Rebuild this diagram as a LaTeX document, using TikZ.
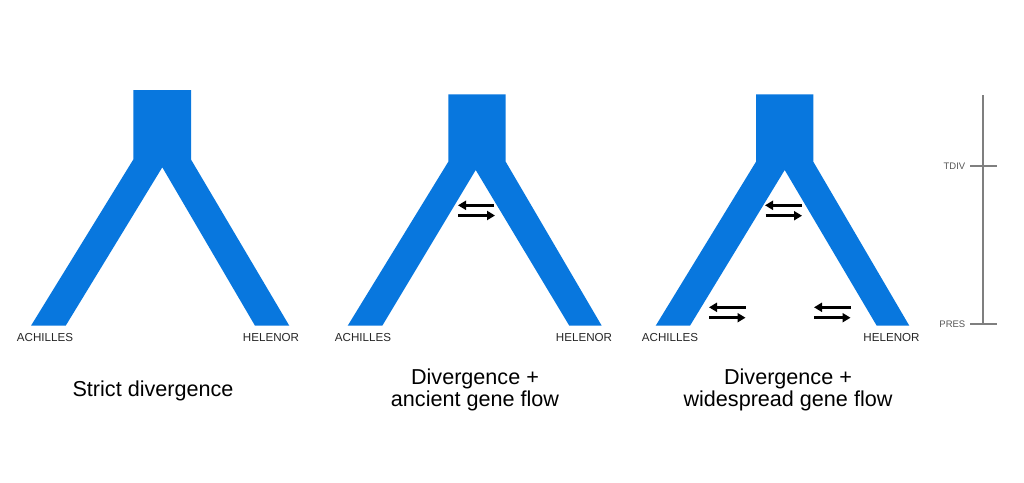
\documentclass[tikz,border=0pt]{standalone}
\usepackage{fontspec}
\setmainfont{Liberation Sans}
\usetikzlibrary{arrows.meta}
\definecolor{treeblue}{HTML}{0877DE}
\definecolor{bargray}{HTML}{7F7F7F}
\definecolor{labgray}{HTML}{555555}
\tikzset{
  branch/.style={fill=treeblue, draw=none},
  leaflabel/.style={font=\fontsize{11.6}{12}\selectfont, text=black!85, inner sep=0pt, anchor=base},
  title/.style={font=\fontsize{21.6}{22.5}\selectfont, align=center, inner sep=0pt, anchor=base},
  flow/.style={line width=3.2pt, -{Triangle[length=8pt,width=9pt]}, black},
  bar/.style={draw=bargray, line width=2pt},
  barlabel/.style={font=\fontsize{9.5}{10}\selectfont, text=labgray, inner sep=0pt, anchor=east}
}
\begin{document}
\begin{tikzpicture}[x=1pt,y=-1pt]
\useasboundingbox (0,0) rectangle (1024,482);
% tree 1
\fill[branch] (133.3,90) -- (191,90) -- (191,159.5) -- (289.3,325.7) -- (255,325.7) -- (162.3,167.3) -- (65.7,325.7) -- (31,325.7) -- (133.3,159.5) -- cycle;
% tree 2
\fill[branch] (448.3,94.3) -- (505.7,94.3) -- (505.7,161.7) -- (601.7,325.7) -- (569.3,325.7) -- (475.7,170) -- (382.3,325.7) -- (347.7,325.7) -- (448.3,161.7) -- cycle;
% tree 3
\fill[branch] (756,94.3) -- (813.3,94.3) -- (813.3,161.7) -- (909.3,325.7) -- (876.7,325.7) -- (784.7,170) -- (690,325.7) -- (655.7,325.7) -- (756,161.7) -- cycle;
% leaf labels
\node[leaflabel] (a1) at (45,341) {ACHILLES};
\node[leaflabel] (h1) at (271,341) {HELENOR};
\node[leaflabel] (a2) at (363,341) {ACHILLES};
\node[leaflabel] (h2) at (584,341) {HELENOR};
\node[leaflabel] (a3) at (670,341) {ACHILLES};
\node[leaflabel] (h3) at (891.5,341) {HELENOR};
% gene flow arrows
\coordinate (t2l) at (458,205.3); \coordinate (t2r) at (494,205.3);
\coordinate (b2l) at (458,215.5); \coordinate (b2r) at (495,215.5);
\draw[flow] (t2r) -- (t2l);
\draw[flow] (b2l) -- (b2r);
\coordinate (t3l) at (765,205.3); \coordinate (t3r) at (802,205.3);
\coordinate (b3l) at (765.5,215.7); \coordinate (b3r) at (802,215.7);
\draw[flow] (t3r) -- (t3l);
\draw[flow] (b3l) -- (b3r);
\coordinate (t4l) at (709,307.3); \coordinate (t4r) at (745.5,307.3);
\coordinate (b4l) at (709,317.7); \coordinate (b4r) at (745.5,317.7);
\draw[flow] (t4r) -- (t4l);
\draw[flow] (b4l) -- (b4r);
\coordinate (t5l) at (814,307.3); \coordinate (t5r) at (850.5,307.3);
\coordinate (b5l) at (814,317.7); \coordinate (b5r) at (850.5,317.7);
\draw[flow] (t5r) -- (t5l);
\draw[flow] (b5l) -- (b5r);
% titles
\node[title] (ti1) at (153,396.5) {Strict divergence};
\node[title] (ti2) at (475,406.5) {Divergence +\\ancient gene flow};
\node[title] (ti3) at (788,406.5) {Divergence +\\widespread gene flow};
% time bar
\coordinate (bartop) at (983.3,95);
\coordinate (barbot) at (983.3,324.3);
\coordinate (tdl) at (970,166); \coordinate (tdr) at (997.3,166);
\coordinate (prl) at (970,324.3); \coordinate (prr) at (997.3,324.3);
\draw[bar] (bartop) -- (barbot);
\draw[bar] (tdl) -- (tdr);
\draw[bar] (prl) -- (prr);
\node[barlabel] (tdiv) at (965.5,166) {TDIV};
\node[barlabel] (pres) at (965.5,324.3) {PRES};
\end{tikzpicture}
\end{document}
